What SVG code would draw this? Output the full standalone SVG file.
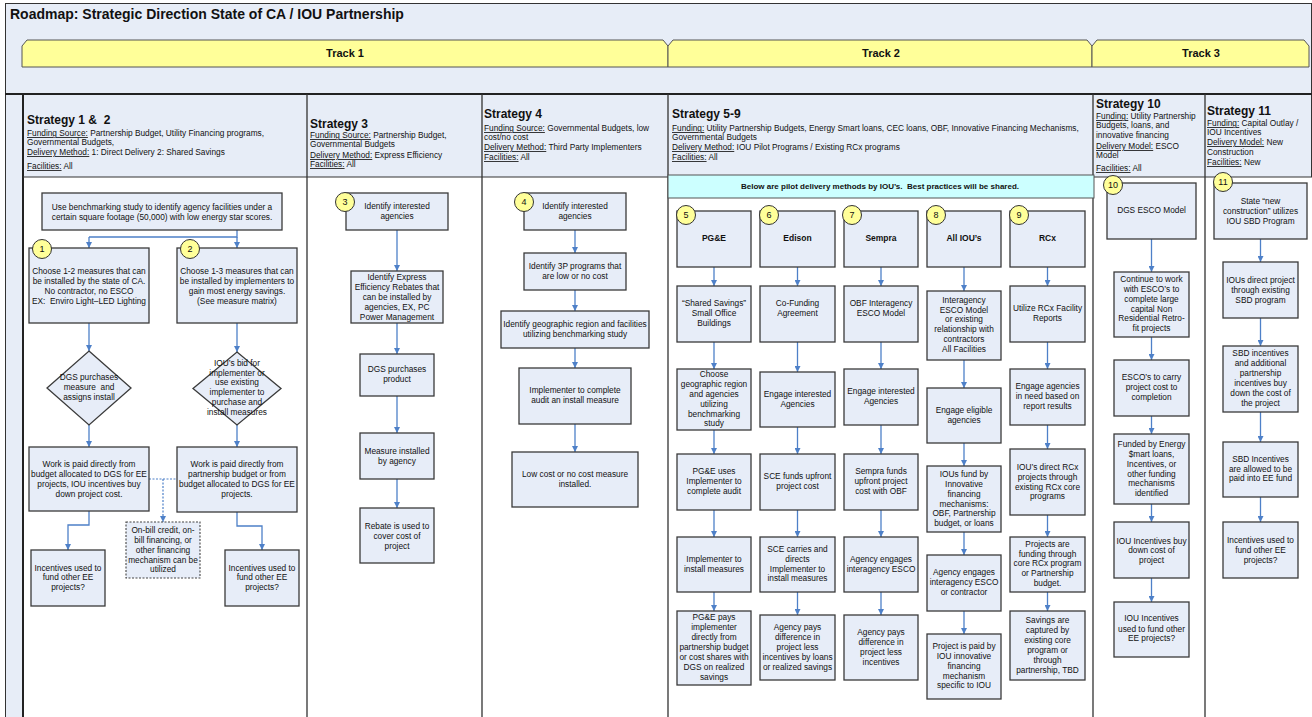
<svg xmlns="http://www.w3.org/2000/svg" width="1312" height="717" viewBox="0 0 1312 717">
<defs>
<marker id="ah" viewBox="0 0 6 6" refX="6" refY="3" markerWidth="6" markerHeight="6" markerUnits="userSpaceOnUse" orient="auto"><path d="M0,0 L6,3 L0,6 Z" fill="#4E80C8"/></marker>
<style>
text{font-family:"Liberation Sans",Arial,sans-serif;fill:#111}
.nt{font-size:8.3px;text-anchor:middle}
.nb{font-size:8.5px;font-weight:bold;text-anchor:middle}
.box{fill:#E7EDF8;stroke:#3A3A3A;stroke-width:1.3}
.dbox{fill:#E7EDF8;stroke:#444;stroke-width:1.1;stroke-dasharray:2 1.5}
.badge{fill:#FFFF99;stroke:#333;stroke-width:1}
.bn{font-size:9px;text-anchor:middle}
.hd{font-size:8.3px}
.st{font-size:12px;font-weight:bold}
.u{text-decoration:underline}
.cn{fill:none;stroke:#4E80C8;stroke-width:1.3;marker-end:url(#ah)}
.cl{fill:none;stroke:#4E80C8;stroke-width:1.3}
.cd{fill:none;stroke:#4E80C8;stroke-width:1.2;stroke-dasharray:2 1.5}
.cdm{fill:none;stroke:#4E80C8;stroke-width:1.2;stroke-dasharray:2 1.5;marker-end:url(#ah)}
.trk{fill:#FFFF99;stroke:#555;stroke-width:1}
.tt{font-size:11px;font-weight:bold;text-anchor:middle}
.sep{stroke:#333;stroke-width:1.3}
</style>
</defs>

<g id="background">
<rect x="0" y="0" width="1312" height="717" fill="#FFFFFF"/>
<rect x="5.5" y="3.5" width="1306" height="714" fill="#E7EDF7" stroke="#333" stroke-width="1"/>
<rect x="24" y="177" width="1288" height="540" fill="#FFFFFF"/>
<text x="10" y="19" font-size="14" font-weight="bold">Roadmap: Strategic Direction State of CA / IOU Partnership</text>
</g>

<g id="tracks">
<g id="track1"><path class="trk" d="M22,46 L27,40 L663,40 L668,46 V67 H22 Z"/><text class="tt" x="345" y="57">Track 1</text></g>
<g id="track2"><path class="trk" d="M668,46 L673,40 L1087,40 L1092,46 V67 H668 Z"/><text class="tt" x="881" y="57">Track 2</text></g>
<g id="track3"><path class="trk" d="M1092,46 L1097,40 L1304,40 L1309,46 V67 H1092 Z"/><text class="tt" x="1201" y="57">Track 3</text></g>
</g>

<g id="grid">
<path d="M5,94 H1312" stroke="#222" stroke-width="2"/>
<path d="M23,94 V717" stroke="#222" stroke-width="2"/>
<path d="M23,177 H1312" stroke="#333" stroke-width="1"/>
<path class="sep" d="M307,94 V717 M482,94 V717 M668,94 V717 M1093,94 V717 M1205,94 V717"/>
</g>

<g id="headers">
<g id="h-s12">
<text class="st" x="27" y="124">Strategy 1 &amp;&#160; 2</text>
<text class="hd" x="27" y="136"><tspan class="u">Funding Source:</tspan> Partnership Budget, Utility Financing programs,</text>
<text class="hd" x="27" y="145">Governmental Budgets,</text>
<text class="hd" x="27" y="155"><tspan class="u">Delivery Method:</tspan> 1: Direct Delivery 2: Shared Savings</text>
<text class="hd" x="27" y="169"><tspan class="u">Facilities:</tspan> All</text>
</g>
<g id="h-s3">
<text class="st" x="310" y="128">Strategy 3</text>
<text class="hd" x="310" y="138"><tspan class="u">Funding Source:</tspan> Partnership Budget,</text>
<text class="hd" x="310" y="147">Governmental Budgets</text>
<text class="hd" x="310" y="158"><tspan class="u">Delivery Method:</tspan> Express Efficiency</text>
<text class="hd" x="310" y="167"><tspan class="u">Facilities:</tspan> All</text>
</g>
<g id="h-s4">
<text class="st" x="484" y="118">Strategy 4</text>
<text class="hd" x="484" y="131"><tspan class="u">Funding Source:</tspan> Governmental Budgets, low</text>
<text class="hd" x="484" y="140">cost/no cost</text>
<text class="hd" x="484" y="150"><tspan class="u">Delivery Method:</tspan> Third Party Implementers</text>
<text class="hd" x="484" y="160"><tspan class="u">Facilities:</tspan> All</text>
</g>
<g id="h-s59">
<text class="st" x="672" y="118">Strategy 5-9</text>
<text class="hd" x="672" y="131"><tspan class="u">Funding:</tspan> Utility Partnership Budgets, Energy Smart loans, CEC loans, OBF, Innovative Financing Mechanisms,</text>
<text class="hd" x="672" y="140">Governmental Budgets</text>
<text class="hd" x="672" y="150"><tspan class="u">Delivery Method:</tspan> IOU Pilot Programs / Existing RCx programs</text>
<text class="hd" x="672" y="160"><tspan class="u">Facilities:</tspan> All</text>
</g>
<g id="h-s10">
<text class="st" x="1096" y="108">Strategy 10</text>
<text class="hd" x="1096" y="119"><tspan class="u">Funding:</tspan> Utility Partnership</text>
<text class="hd" x="1096" y="128">Budgets, loans, and</text>
<text class="hd" x="1096" y="138">innovative financing</text>
<text class="hd" x="1096" y="149"><tspan class="u">Delivery Model:</tspan> ESCO</text>
<text class="hd" x="1096" y="158">Model</text>
<text class="hd" x="1096" y="171"><tspan class="u">Facilities:</tspan> All</text>
</g>
<g id="h-s11">
<text class="st" x="1207" y="115">Strategy 11</text>
<text class="hd" x="1207" y="126"><tspan class="u">Funding:</tspan> Capital Outlay /</text>
<text class="hd" x="1207" y="135">IOU Incentives</text>
<text class="hd" x="1207" y="145"><tspan class="u">Delivery Model:</tspan> New</text>
<text class="hd" x="1207" y="155">Construction</text>
<text class="hd" x="1207" y="165"><tspan class="u">Facilities:</tspan> New</text>
</g>
<g id="pilot-band">
<rect x="668" y="175" width="426" height="23" fill="#CCFFFF" stroke="#555" stroke-width="1"/>
<text x="880" y="189" font-size="8" font-weight="bold" text-anchor="middle">Below are pilot delivery methods by IOU’s.&#160; Best practices will be shared.</text>
</g>
</g>

<g id="connectors">
<path class="cl" d="M237,230 V237 H89"/>
<path class="cn" d="M89,237 V248"/>
<path class="cn" d="M237,237 V248"/>
<path class="cn" d="M89,323 V351"/>
<path class="cn" d="M237,323 V352"/>
<path class="cn" d="M89,425 V447"/>
<path class="cn" d="M237,425 V447"/>
<path class="cd" d="M149,479 H177"/>
<path class="cdm" d="M163,479 V522"/>
<path class="cn" d="M89,511 V525 H68 V550"/>
<path class="cn" d="M237,512 V526 H262 V550"/>

<path class="cn" d="M397,230 V271"/>
<path class="cn" d="M397,323 V354"/>
<path class="cn" d="M397,396 V433"/>
<path class="cn" d="M397,479 V508"/>

<path class="cn" d="M575,230 V253"/>
<path class="cn" d="M575,290 V311"/>
<path class="cn" d="M575,348 V368"/>
<path class="cn" d="M575,424 V452"/>

<path class="cn" d="M714,267 V286"/>
<path class="cn" d="M714,342 V369"/>
<path class="cn" d="M714,430 V454"/>
<path class="cn" d="M714,510 V537"/>
<path class="cn" d="M714,592 V611"/>

<path class="cn" d="M797.5,267 V286"/>
<path class="cn" d="M797.5,342 V372"/>
<path class="cn" d="M797.5,427 V454"/>
<path class="cn" d="M797.5,510 V537"/>
<path class="cn" d="M797.5,592 V615"/>

<path class="cn" d="M881,267 V286"/>
<path class="cn" d="M881,342 V369"/>
<path class="cn" d="M881,425 V454"/>
<path class="cn" d="M881,510 V537"/>
<path class="cn" d="M881,592 V615"/>

<path class="cn" d="M964,267 V291"/>
<path class="cn" d="M964,360 V388"/>
<path class="cn" d="M964,443 V466"/>
<path class="cn" d="M964,532 V555"/>
<path class="cn" d="M964,611 V634"/>

<path class="cn" d="M1047.5,267 V286"/>
<path class="cn" d="M1047.5,342 V369"/>
<path class="cn" d="M1047.5,425 V449"/>
<path class="cn" d="M1047.5,515 V537"/>
<path class="cn" d="M1047.5,592 V611"/>

<path class="cn" d="M1151.5,239 V272"/>
<path class="cn" d="M1151.5,337 V360"/>
<path class="cn" d="M1151.5,416 V434"/>
<path class="cn" d="M1151.5,504 V522"/>
<path class="cn" d="M1151.5,578 V602"/>

<path class="cn" d="M1260.5,239 V262"/>
<path class="cn" d="M1260.5,318 V346"/>
<path class="cn" d="M1260.5,412 V442"/>
<path class="cn" d="M1260.5,497 V522"/>
</g>

<g id="s12-benchmark"><rect class="box" x="42" y="193" width="240" height="37"/><text class="nt"><tspan x="162" y="209.5">Use benchmarking study to identify agency facilities under a</tspan><tspan x="162" y="219.5">certain square footage (50,000) with low energy star scores.</tspan></text></g>
<g id="s12-choose1"><rect class="box" x="29" y="248" width="120" height="75"/><text class="nt"><tspan x="89" y="274">Choose 1-2 measures that can</tspan><tspan x="89" y="284">be installed by the state of CA.</tspan><tspan x="89" y="294">No contractor, no ESCO</tspan><tspan x="89" y="304">EX:&#160; Enviro Light–LED Lighting</tspan></text><circle class="badge" cx="42" cy="249" r="9.5"/><text class="bn" x="42" y="252">1</text></g>
<g id="s12-choose2"><rect class="box" x="177" y="248" width="120" height="75"/><text class="nt"><tspan x="237" y="274">Choose 1-3 measures that can</tspan><tspan x="237" y="284">be installed by implementers to</tspan><tspan x="237" y="294">gain most energy savings.</tspan><tspan x="237" y="304">(See measure matrix)</tspan></text><circle class="badge" cx="190" cy="249" r="9.5"/><text class="bn" x="190" y="252">2</text></g>
<g id="s12-dgs-diamond"><polygon class="box" points="89,351 131,388 89,425 47,388"/><text class="nt"><tspan x="89" y="380">DGS purchases</tspan><tspan x="89" y="390">measure&#160; and</tspan><tspan x="89" y="400">assigns install</tspan></text></g>
<g id="s12-iou-diamond"><polygon class="box" points="237,352 281,388.5 237,425 193,388.5"/><text class="nt"><tspan x="237" y="366">IOU’s bid for</tspan><tspan x="237" y="376">implementer or</tspan><tspan x="237" y="385">use existing</tspan><tspan x="237" y="395">implementer to</tspan><tspan x="237" y="405">purchase and</tspan><tspan x="237" y="415">install measures</tspan></text></g>
<g id="s12-work1"><rect class="box" x="29" y="447" width="120" height="64"/><text class="nt"><tspan x="89" y="467">Work is paid directly from</tspan><tspan x="89" y="477">budget allocated to DGS for EE</tspan><tspan x="89" y="487">projects, IOU incentives buy</tspan><tspan x="89" y="497">down project cost.</tspan></text></g>
<g id="s12-work2"><rect class="box" x="177" y="447" width="120" height="65"/><text class="nt"><tspan x="237" y="467">Work is paid directly from</tspan><tspan x="237" y="477">partnership budget or from</tspan><tspan x="237" y="487">budget allocated to DGS for EE</tspan><tspan x="237" y="497">projects.</tspan></text></g>
<g id="s12-onbill"><rect class="dbox" x="126" y="522" width="74" height="56"/><text class="nt"><tspan x="163" y="533">On-bill credit, on-</tspan><tspan x="163" y="543">bill financing, or</tspan><tspan x="163" y="553">other financing</tspan><tspan x="163" y="563">mechanism can be</tspan><tspan x="163" y="572">utilized</tspan></text></g>
<g id="s12-inc1"><rect class="box" x="31" y="550" width="74" height="56"/><text class="nt"><tspan x="68" y="571">Incentives used to</tspan><tspan x="68" y="580">fund other EE</tspan><tspan x="68" y="590">projects?</tspan></text></g>
<g id="s12-inc2"><rect class="box" x="225" y="550" width="74" height="56"/><text class="nt"><tspan x="262" y="571">Incentives used to</tspan><tspan x="262" y="580">fund other EE</tspan><tspan x="262" y="590">projects?</tspan></text></g>

<g id="s3-identify"><rect class="box" x="346" y="193" width="102" height="37"/><text class="nt"><tspan x="397" y="209">Identify interested</tspan><tspan x="397" y="219">agencies</tspan></text><circle class="badge" cx="345" cy="202" r="9.5"/><text class="bn" x="345" y="205">3</text></g>
<g id="s3-rebates"><rect class="box" x="351" y="271" width="92" height="52"/><text class="nt"><tspan x="397" y="280">Identify Express</tspan><tspan x="397" y="290">Efficiency Rebates that</tspan><tspan x="397" y="300">can be installed by</tspan><tspan x="397" y="310">agencies, EX, PC</tspan><tspan x="397" y="320">Power Management</tspan></text></g>
<g id="s3-purchase"><rect class="box" x="360" y="354" width="74" height="42"/><text class="nt"><tspan x="397" y="372">DGS purchases</tspan><tspan x="397" y="382">product</tspan></text></g>
<g id="s3-installed"><rect class="box" x="360" y="433" width="74" height="46"/><text class="nt"><tspan x="397" y="454">Measure installed</tspan><tspan x="397" y="464">by agency</tspan></text></g>
<g id="s3-rebate"><rect class="box" x="360" y="508" width="74" height="55"/><text class="nt"><tspan x="397" y="529">Rebate is used to</tspan><tspan x="397" y="539">cover cost of</tspan><tspan x="397" y="549">project</tspan></text></g>

<g id="s4-identify"><rect class="box" x="524" y="193" width="102" height="37"/><text class="nt"><tspan x="575" y="209">Identify interested</tspan><tspan x="575" y="219">agencies</tspan></text><circle class="badge" cx="524" cy="202" r="9.5"/><text class="bn" x="524" y="205">4</text></g>
<g id="s4-3p"><rect class="box" x="524" y="253" width="102" height="37"/><text class="nt"><tspan x="575" y="269">Identify 3P programs that</tspan><tspan x="575" y="279">are low or no cost</tspan></text></g>
<g id="s4-region"><rect class="box" x="501" y="311" width="148" height="37"/><text class="nt"><tspan x="575" y="327">Identify geographic region and facilities</tspan><tspan x="575" y="337">utilizing benchmarking study</tspan></text></g>
<g id="s4-audit"><rect class="box" x="519" y="368" width="112" height="56"/><text class="nt"><tspan x="575" y="393">Implementer to complete</tspan><tspan x="575" y="403">audit an install measure</tspan></text></g>
<g id="s4-lowcost"><rect class="box" x="512" y="452" width="126" height="55"/><text class="nt"><tspan x="575" y="477">Low cost or no cost measure</tspan><tspan x="575" y="487">installed.</tspan></text></g>

<g id="s5-pge"><rect class="box" x="677" y="211" width="74" height="56"/><text class="nb" x="714" y="241">PG&amp;E</text><circle class="badge" cx="686" cy="215" r="9.5"/><text class="bn" x="686" y="218">5</text></g>
<g id="s5-shared"><rect class="box" x="677" y="286" width="74" height="56"/><text class="nt"><tspan x="714" y="306">“Shared Savings”</tspan><tspan x="714" y="316">Small Office</tspan><tspan x="714" y="326">Buildings</tspan></text></g>
<g id="s5-choose"><rect class="box" x="677" y="369" width="74" height="61"/><text class="nt"><tspan x="714" y="377">Choose</tspan><tspan x="714" y="387">geographic region</tspan><tspan x="714" y="397">and agencies</tspan><tspan x="714" y="407">utilizing</tspan><tspan x="714" y="417">benchmarking</tspan><tspan x="714" y="426">study</tspan></text></g>
<g id="s5-audit"><rect class="box" x="677" y="454" width="74" height="56"/><text class="nt"><tspan x="714" y="474">PG&amp;E uses</tspan><tspan x="714" y="484">Implementer to</tspan><tspan x="714" y="494">complete audit</tspan></text></g>
<g id="s5-install"><rect class="box" x="677" y="537" width="74" height="55"/><text class="nt"><tspan x="714" y="562">Implementer to</tspan><tspan x="714" y="572">install measures</tspan></text></g>
<g id="s5-pays"><rect class="box" x="677" y="611" width="74" height="74"/><text class="nt"><tspan x="714" y="620">PG&amp;E pays</tspan><tspan x="714" y="630">implementer</tspan><tspan x="714" y="640">directly from</tspan><tspan x="714" y="650">partnership budget</tspan><tspan x="714" y="660">or cost shares with</tspan><tspan x="714" y="670">DGS on realized</tspan><tspan x="714" y="680">savings</tspan></text></g>

<g id="s6-edison"><rect class="box" x="760" y="211" width="75" height="56"/><text class="nb" x="797.5" y="241">Edison</text><circle class="badge" cx="769" cy="215" r="9.5"/><text class="bn" x="769" y="218">6</text></g>
<g id="s6-cofund"><rect class="box" x="760" y="286" width="75" height="56"/><text class="nt"><tspan x="797.5" y="306">Co-Funding</tspan><tspan x="797.5" y="316">Agreement</tspan></text></g>
<g id="s6-engage"><rect class="box" x="760" y="372" width="75" height="55"/><text class="nt"><tspan x="797.5" y="397">Engage interested</tspan><tspan x="797.5" y="407">Agencies</tspan></text></g>
<g id="s6-funds"><rect class="box" x="760" y="454" width="75" height="56"/><text class="nt"><tspan x="797.5" y="479">SCE funds upfront</tspan><tspan x="797.5" y="489">project cost</tspan></text></g>
<g id="s6-carries"><rect class="box" x="760" y="537" width="75" height="55"/><text class="nt"><tspan x="797.5" y="552">SCE carries and</tspan><tspan x="797.5" y="562">directs</tspan><tspan x="797.5" y="572">Implementer to</tspan><tspan x="797.5" y="581">install measures</tspan></text></g>
<g id="s6-pays"><rect class="box" x="760" y="615" width="75" height="65"/><text class="nt"><tspan x="797.5" y="630">Agency pays</tspan><tspan x="797.5" y="640">difference in</tspan><tspan x="797.5" y="650">project less</tspan><tspan x="797.5" y="660">incentives by loans</tspan><tspan x="797.5" y="670">or realized savings</tspan></text></g>

<g id="s7-sempra"><rect class="box" x="844" y="211" width="74" height="56"/><text class="nb" x="881" y="241">Sempra</text><circle class="badge" cx="852" cy="215" r="9.5"/><text class="bn" x="852" y="218">7</text></g>
<g id="s7-obf"><rect class="box" x="844" y="286" width="74" height="56"/><text class="nt"><tspan x="881" y="306">OBF Interagency</tspan><tspan x="881" y="316">ESCO Model</tspan></text></g>
<g id="s7-engage"><rect class="box" x="844" y="369" width="74" height="56"/><text class="nt"><tspan x="881" y="394">Engage interested</tspan><tspan x="881" y="404">Agencies</tspan></text></g>
<g id="s7-funds"><rect class="box" x="844" y="454" width="74" height="56"/><text class="nt"><tspan x="881" y="474">Sempra funds</tspan><tspan x="881" y="484">upfront project</tspan><tspan x="881" y="494">cost with OBF</tspan></text></g>
<g id="s7-esco"><rect class="box" x="844" y="537" width="74" height="55"/><text class="nt"><tspan x="881" y="562">Agency engages</tspan><tspan x="881" y="572">interagency ESCO</tspan></text></g>
<g id="s7-pays"><rect class="box" x="844" y="615" width="74" height="65"/><text class="nt"><tspan x="881" y="635">Agency pays</tspan><tspan x="881" y="645">difference in</tspan><tspan x="881" y="655">project less</tspan><tspan x="881" y="665">incentives</tspan></text></g>

<g id="s8-all"><rect class="box" x="927" y="211" width="74" height="56"/><text class="nb" x="964" y="241">All IOU’s</text><circle class="badge" cx="936" cy="215" r="9.5"/><text class="bn" x="936" y="218">8</text></g>
<g id="s8-interagency"><rect class="box" x="927" y="291" width="74" height="69"/><text class="nt"><tspan x="964" y="303">Interagency</tspan><tspan x="964" y="313">ESCO Model</tspan><tspan x="964" y="322">or existing</tspan><tspan x="964" y="332">relationship with</tspan><tspan x="964" y="342">contractors</tspan><tspan x="964" y="352">All Facilities</tspan></text></g>
<g id="s8-engage"><rect class="box" x="927" y="388" width="74" height="55"/><text class="nt"><tspan x="964" y="413">Engage eligible</tspan><tspan x="964" y="423">agencies</tspan></text></g>
<g id="s8-fund"><rect class="box" x="927" y="466" width="74" height="66"/><text class="nt"><tspan x="964" y="477">IOUs fund by</tspan><tspan x="964" y="487">Innovative</tspan><tspan x="964" y="497">financing</tspan><tspan x="964" y="507">mechanisms:</tspan><tspan x="964" y="516">OBF, Partnership</tspan><tspan x="964" y="526">budget, or loans</tspan></text></g>
<g id="s8-esco"><rect class="box" x="927" y="555" width="74" height="56"/><text class="nt"><tspan x="964" y="575">Agency engages</tspan><tspan x="964" y="585">interagency ESCO</tspan><tspan x="964" y="595">or contractor</tspan></text></g>
<g id="s8-paid"><rect class="box" x="927" y="634" width="74" height="65"/><text class="nt"><tspan x="964" y="649">Project is paid by</tspan><tspan x="964" y="659">IOU innovative</tspan><tspan x="964" y="669">financing</tspan><tspan x="964" y="679">mechanism</tspan><tspan x="964" y="688">specific to IOU</tspan></text></g>

<g id="s9-rcx"><rect class="box" x="1010" y="211" width="75" height="56"/><text class="nb" x="1047.5" y="241">RCx</text><circle class="badge" cx="1019" cy="215" r="9.5"/><text class="bn" x="1019" y="218">9</text></g>
<g id="s9-reports"><rect class="box" x="1010" y="286" width="75" height="56"/><text class="nt"><tspan x="1047.5" y="311">Utilize RCx Facility</tspan><tspan x="1047.5" y="321">Reports</tspan></text></g>
<g id="s9-engage"><rect class="box" x="1010" y="369" width="75" height="56"/><text class="nt"><tspan x="1047.5" y="389">Engage agencies</tspan><tspan x="1047.5" y="399">in need based on</tspan><tspan x="1047.5" y="409">report results</tspan></text></g>
<g id="s9-direct"><rect class="box" x="1010" y="449" width="75" height="66"/><text class="nt"><tspan x="1047.5" y="470">IOU’s direct RCx</tspan><tspan x="1047.5" y="480">projects through</tspan><tspan x="1047.5" y="490">existing RCx core</tspan><tspan x="1047.5" y="499">programs</tspan></text></g>
<g id="s9-funding"><rect class="box" x="1010" y="537" width="75" height="55"/><text class="nt"><tspan x="1047.5" y="547">Projects are</tspan><tspan x="1047.5" y="557">funding through</tspan><tspan x="1047.5" y="566">core RCx program</tspan><tspan x="1047.5" y="576">or Partnership</tspan><tspan x="1047.5" y="586">budget.</tspan></text></g>
<g id="s9-savings"><rect class="box" x="1010" y="611" width="75" height="69"/><text class="nt"><tspan x="1047.5" y="623">Savings are</tspan><tspan x="1047.5" y="633">captured by</tspan><tspan x="1047.5" y="643">existing core</tspan><tspan x="1047.5" y="653">program or</tspan><tspan x="1047.5" y="663">through</tspan><tspan x="1047.5" y="673">partnership, TBD</tspan></text></g>

<g id="s10-dgs"><rect class="box" x="1107" y="183" width="89" height="56"/><text class="nt" x="1151.5" y="213">DGS ESCO Model</text><circle class="badge" cx="1113" cy="185" r="9.5"/><text class="bn" x="1113" y="188">10</text></g>
<g id="s10-continue"><rect class="box" x="1114" y="272" width="75" height="65"/><text class="nt"><tspan x="1151.5" y="282">Continue to work</tspan><tspan x="1151.5" y="292">with ESCO’s to</tspan><tspan x="1151.5" y="302">complete large</tspan><tspan x="1151.5" y="312">capital Non</tspan><tspan x="1151.5" y="321">Residential Retro-</tspan><tspan x="1151.5" y="331">fit projects</tspan></text></g>
<g id="s10-carry"><rect class="box" x="1114" y="360" width="75" height="56"/><text class="nt"><tspan x="1151.5" y="380">ESCO’s to carry</tspan><tspan x="1151.5" y="390">project cost to</tspan><tspan x="1151.5" y="400">completion</tspan></text></g>
<g id="s10-funded"><rect class="box" x="1114" y="434" width="75" height="70"/><text class="nt"><tspan x="1151.5" y="447">Funded by Energy</tspan><tspan x="1151.5" y="457">$mart loans,</tspan><tspan x="1151.5" y="467">Incentives, or</tspan><tspan x="1151.5" y="477">other funding</tspan><tspan x="1151.5" y="486">mechanisms</tspan><tspan x="1151.5" y="496">identified</tspan></text></g>
<g id="s10-buydown"><rect class="box" x="1114" y="522" width="75" height="56"/><text class="nt"><tspan x="1151.5" y="544">IOU Incentives buy</tspan><tspan x="1151.5" y="553">down cost of</tspan><tspan x="1151.5" y="563">project</tspan></text></g>
<g id="s10-other"><rect class="box" x="1114" y="602" width="75" height="55"/><text class="nt"><tspan x="1151.5" y="621">IOU Incentives</tspan><tspan x="1151.5" y="632">used to fund other</tspan><tspan x="1151.5" y="641">EE projects?</tspan></text></g>

<g id="s11-state"><rect class="box" x="1214" y="183" width="93" height="56"/><text class="nt"><tspan x="1260.5" y="204">State “new</tspan><tspan x="1260.5" y="214">construction” utilizes</tspan><tspan x="1260.5" y="224">IOU SBD Program</tspan></text><circle class="badge" cx="1223" cy="182" r="9.5"/><text class="bn" x="1223" y="185">11</text></g>
<g id="s11-direct"><rect class="box" x="1223" y="262" width="75" height="56"/><text class="nt"><tspan x="1260.5" y="283">IOUs direct project</tspan><tspan x="1260.5" y="293">through existing</tspan><tspan x="1260.5" y="303">SBD program</tspan></text></g>
<g id="s11-sbd"><rect class="box" x="1223" y="346" width="75" height="66"/><text class="nt"><tspan x="1260.5" y="356">SBD incentives</tspan><tspan x="1260.5" y="366">and additional</tspan><tspan x="1260.5" y="376">partnership</tspan><tspan x="1260.5" y="386">incentives buy</tspan><tspan x="1260.5" y="396">down the cost of</tspan><tspan x="1260.5" y="406">the project</tspan></text></g>
<g id="s11-fund"><rect class="box" x="1223" y="442" width="75" height="55"/><text class="nt"><tspan x="1260.5" y="462">SBD Incentives</tspan><tspan x="1260.5" y="472">are allowed to be</tspan><tspan x="1260.5" y="481">paid into EE fund</tspan></text></g>
<g id="s11-other"><rect class="box" x="1223" y="522" width="75" height="56"/><text class="nt"><tspan x="1260.5" y="543">Incentives used to</tspan><tspan x="1260.5" y="553">fund other EE</tspan><tspan x="1260.5" y="563">projects?</tspan></text></g>
</svg>
